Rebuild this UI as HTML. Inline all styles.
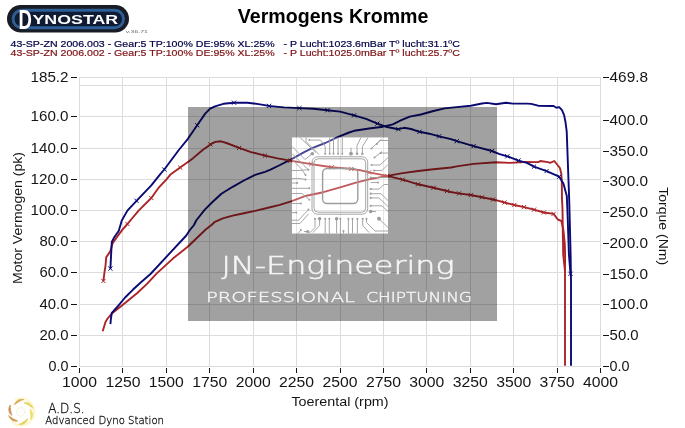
<!DOCTYPE html><html><head><meta charset="utf-8"><title>Vermogens Kromme</title>
<style>html,body{margin:0;padding:0;background:#fff}svg{display:block}text{font-family:"Liberation Sans",sans-serif}</style></head><body>
<svg width="685" height="428" viewBox="0 0 685 428">
<rect width="685" height="428" fill="#fff"/>
<path d="M79.5,77V367M122.5,77V367M166.5,77V367M209.5,77V367M253.5,77V367M296.5,77V367M340.5,77V367M383.5,77V367M426.5,77V367M470.5,77V367M513.5,77V367M557.5,77V367M600.5,77V367M79,366.5H601M79,335.5H601M79,304.5H601M79,272.5H601M79,241.5H601M79,210.5H601M79,179.5H601M79,148.5H601M79,116.5H601M79,85.5H601M79,77.5H601" stroke="#dcdcdc" stroke-width="1" fill="none" shape-rendering="crispEdges"/>
<path d="M102.7,331.2 L105.5,322.0 L107.6,318.5 L111.8,313.6 L122.3,305.2 L137.0,293.3 L147.0,283.9 L156.8,273.4 L172.9,258.6 L187.7,246.7 L206.0,229.3 L211.5,225.0 L214.4,222.2 L222.8,218.4 L232.7,215.6 L243.9,213.2 L255.1,210.9 L269.1,207.5 L279.8,204.8 L291.0,201.3 L306.4,195.7 L323.3,192.2 L340.1,187.3 L356.9,182.4 L369.0,179.4 L387.2,175.9 L402.7,173.1 L418.1,171.0 L433.5,169.3 L451.0,167.5 L456.8,166.4 L473.6,163.9 L496.0,162.2 L510.0,162.9 L524.0,162.0 L538.2,162.1 L540.3,161.0 L548.0,162.1 L550.1,162.8 L554.3,161.0 L557.1,164.5 L559.9,168.0 L561.3,173.6 L561.8,182.0 L562.0,199.6 L562.5,209.0 L562.9,237.0 L563.2,254.6 L565.0,271.0 L565.0,365.8" fill="none" stroke="#ac2428" stroke-width="1.9" stroke-linejoin="round" stroke-linecap="butt"/>
<path d="M110.4,324.1 L111.0,318.0 L111.8,313.0 L118.8,305.2 L125.1,297.5 L132.8,289.8 L140.7,282.5 L150.5,274.0 L168.0,255.1 L186.3,235.5 L189.5,230.5 L194.0,225.0 L196.2,220.5 L204.6,209.9 L213.0,201.5 L221.4,193.8 L232.7,186.8 L243.9,180.5 L255.1,174.9 L265.0,171.8 L270.5,169.7 L279.0,165.5 L291.6,159.1 L304.2,152.1 L312.7,147.9 L325.3,143.0 L337.6,137.2 L349.1,132.5 L354.1,130.8 L361.0,129.7 L369.0,128.5 L383.0,126.7 L392.8,124.3 L401.3,120.1 L409.7,116.6 L420.9,114.5 L433.5,111.0 L444.7,108.4 L454.0,107.4 L470.8,105.7 L482.0,103.5 L487.0,102.9 L496.0,104.3 L505.9,102.8 L512.9,103.6 L526.9,103.6 L531.2,103.9 L538.2,105.7 L553.6,106.0 L556.4,107.7 L559.2,107.1 L562.0,110.2 L564.1,115.1 L565.6,122.8 L566.7,131.3 L567.2,144.6 L568.4,177.8 L569.2,199.6 L570.6,254.0 L571.0,280.0 L571.0,365.8" fill="none" stroke="#0a0a76" stroke-width="1.9" stroke-linejoin="round" stroke-linecap="butt"/>
<path d="M103.4,281.0 L104.5,272.0 L105.5,265.8 L106.2,257.4 L110.4,251.1 L112.5,243.4 L117.4,236.4 L122.5,229.6 L127.4,224.0 L138.6,210.6 L151.3,198.0 L158.3,188.2 L166.7,179.1 L170.4,174.6 L180.2,167.6 L192.8,158.4 L202.7,150.0 L210.4,144.4 L215.3,141.9 L220.9,141.3 L226.5,143.0 L239.1,147.9 L251.0,152.1 L265.0,155.6 L277.6,158.4 L290.2,160.6 L311.3,164.1 L331.7,167.3 L351.3,168.9 L361.0,170.4 L369.0,172.4 L387.2,175.9 L402.7,179.7 L418.1,184.3 L433.5,187.8 L451.0,192.0 L456.8,193.1 L470.8,195.0 L482.0,197.3 L496.0,200.1 L504.5,202.5 L514.3,205.0 L524.1,207.1 L534.0,209.7 L543.8,212.5 L553.6,213.9 L557.8,219.5 L561.3,220.9 L563.4,230.0 L564.8,244.0 L565.1,254.6 L565.0,271.0" fill="none" stroke="#ac2428" stroke-width="1.9" stroke-linejoin="round" stroke-linecap="butt"/>
<path d="M110.4,268.6 L111.1,254.6 L111.8,242.0 L113.9,237.8 L118.8,230.8 L119.3,229.0 L121.8,220.5 L127.4,210.6 L136.5,200.8 L151.3,185.4 L159.9,174.6 L164.3,169.5 L178.8,150.0 L187.9,138.8 L197.2,125.2 L205.2,113.6 L210.1,108.7 L215.0,106.3 L223.4,103.8 L234.0,102.7 L247.3,102.8 L258.5,104.1 L269.0,105.9 L276.0,106.6 L284.0,107.4 L299.4,108.1 L313.4,108.8 L327.5,110.2 L340.1,111.6 L354.1,115.4 L366.1,118.9 L377.4,123.6 L385.8,126.7 L398.4,129.2 L404.0,127.8 L411.0,129.0 L419.5,131.8 L429.3,133.7 L439.1,136.3 L451.0,139.1 L456.8,141.2 L473.6,146.1 L491.9,151.0 L498.9,153.8 L507.3,156.3 L518.5,160.6 L526.9,162.9 L534.0,166.6 L546.6,171.1 L559.2,176.7 L563.4,183.4 L566.8,196.1 L567.6,215.0 L568.9,254.0 L570.5,273.8" fill="none" stroke="#0a0a76" stroke-width="1.9" stroke-linejoin="round" stroke-linecap="butt"/>
<path d="M101.3,278.9l4.2,4.2M101.3,283.1l4.2,-4.2M125.3,221.9l4.2,4.2M125.3,226.1l4.2,-4.2M149.2,195.9l4.2,4.2M149.2,200.1l4.2,-4.2M178.1,165.5l4.2,4.2M178.1,169.7l4.2,-4.2M208.3,142.3l4.2,4.2M208.3,146.5l4.2,-4.2M237.0,145.8l4.2,4.2M237.0,150.0l4.2,-4.2M262.9,153.5l4.2,4.2M262.9,157.7l4.2,-4.2M288.1,158.5l4.2,4.2M288.1,162.7l4.2,-4.2M309.2,162.0l4.2,4.2M309.2,166.2l4.2,-4.2M329.6,165.2l4.2,4.2M329.6,169.4l4.2,-4.2M349.2,166.8l4.2,4.2M349.2,171.0l4.2,-4.2M366.9,170.3l4.2,4.2M366.9,174.5l4.2,-4.2M385.1,173.8l4.2,4.2M385.1,178.0l4.2,-4.2M400.6,177.6l4.2,4.2M400.6,181.8l4.2,-4.2M416.0,182.2l4.2,4.2M416.0,186.4l4.2,-4.2M431.4,185.7l4.2,4.2M431.4,189.9l4.2,-4.2M444.9,188.9l4.2,4.2M444.9,193.1l4.2,-4.2M456.9,191.3l4.2,4.2M456.9,195.5l4.2,-4.2M468.7,192.9l4.2,4.2M468.7,197.1l4.2,-4.2M479.9,195.2l4.2,4.2M479.9,199.4l4.2,-4.2M490.9,197.4l4.2,4.2M490.9,201.6l4.2,-4.2M502.4,200.4l4.2,4.2M502.4,204.6l4.2,-4.2M512.2,202.9l4.2,4.2M512.2,207.1l4.2,-4.2M522.0,205.0l4.2,4.2M522.0,209.2l4.2,-4.2M531.9,207.6l4.2,4.2M531.9,211.8l4.2,-4.2M541.7,210.4l4.2,4.2M541.7,214.6l4.2,-4.2M551.5,211.8l4.2,4.2M551.5,216.0l4.2,-4.2" fill="none" stroke="#ac2428" stroke-width="1"/>
<path d="M108.3,266.5l4.2,4.2M108.3,270.7l4.2,-4.2M134.4,198.7l4.2,4.2M134.4,202.9l4.2,-4.2M162.2,167.4l4.2,4.2M162.2,171.6l4.2,-4.2M195.1,123.1l4.2,4.2M195.1,127.3l4.2,-4.2M231.9,100.6l4.2,4.2M231.9,104.8l4.2,-4.2M266.9,103.8l4.2,4.2M266.9,108.0l4.2,-4.2M297.3,106.0l4.2,4.2M297.3,110.2l4.2,-4.2M325.4,108.1l4.2,4.2M325.4,112.3l4.2,-4.2M352.0,113.3l4.2,4.2M352.0,117.5l4.2,-4.2M375.3,121.5l4.2,4.2M375.3,125.7l4.2,-4.2M396.3,127.1l4.2,4.2M396.3,131.3l4.2,-4.2M417.4,129.7l4.2,4.2M417.4,133.9l4.2,-4.2M437.0,134.2l4.2,4.2M437.0,138.4l4.2,-4.2M454.7,139.1l4.2,4.2M454.7,143.3l4.2,-4.2M471.5,144.0l4.2,4.2M471.5,148.2l4.2,-4.2M489.8,148.9l4.2,4.2M489.8,153.1l4.2,-4.2M505.2,154.2l4.2,4.2M505.2,158.4l4.2,-4.2M516.4,158.5l4.2,4.2M516.4,162.7l4.2,-4.2M531.9,164.5l4.2,4.2M531.9,168.7l4.2,-4.2M544.5,169.0l4.2,4.2M544.5,173.2l4.2,-4.2M557.1,174.6l4.2,4.2M557.1,178.8l4.2,-4.2M568.4,271.7l4.2,4.2M568.4,275.9l4.2,-4.2" fill="none" stroke="#0a0a76" stroke-width="1"/>
<path d="M188,107H497V321H188ZM292,137.5H388V233.4H292Z" fill="#000" fill-opacity="0.37" fill-rule="evenodd"/>
<rect x="292" y="137.5" width="96" height="95.9" fill="#fff" fill-opacity="0.25"/>
<g transform="translate(292,137.5)" fill="none" stroke="#9c9c9c" stroke-width="0.9">
<path d="M17.3,2.6H28.6L33.2,9V16.2M37.7,0V16.2M41.5,0V16.2M46.1,0V16.2M50.3,0V16.2M59,16.2V10M65,16.2V8L69,0M70.4,16.2V9L76,0M0,9L13,22L20.3,16.2M8,0L24,15M14,0V4L27,17M0,16L12,28L16.5,32.2M0,22L9,31L13.5,37.5M0,41H8L13.5,42M0,45.5H5.1M0,50.8H17.3M0,56H10L17.3,62.2M0,33H6L16.5,32.2M0,75.1H4.3M16.5,72.1L6.6,82.7H0M16.5,76.5L8,86H0M0,66H9M79.5,10.9L88,3H96M84.8,6.4L90,1M88.6,15.5H96M82.5,20L90,14M79.5,27.5H88L96,20M82,33H90L96,27M78.7,51.6H87L92,47H96M78.7,56.2H89L96,63M78.7,60.4H87L96,69M78.7,68.3H90L96,74M78.7,74H84M78.7,40H96M78.7,45H86M23,81.2V90L17,96M27.6,81.2V88L21,95M33.2,81.2V96M37.3,81.2V96M44.6,81.2V96M48.4,81.2V96M51.5,93.5V96M56.4,81.2V96M60.5,81.2V96M65.4,81.2V96M70.7,81.2V88L77,95M74.5,81.2V85L83,93.5H96M87,81.2L96,90M8.9,92.6L6,96M15.7,94H12"/>
<rect x="20" y="19.3" width="55.7" height="57.4" rx="5.5"/>
<rect x="22" y="21.3" width="51.7" height="53.4" rx="4"/>
<rect x="30.6" y="31" width="35.2" height="35" rx="4.5" stroke-width="1.4"/>
<g fill="#9c9c9c" stroke="none"><circle cx="17.3" cy="2.6" r="1"/><circle cx="33.2" cy="16.2" r="1"/><circle cx="37.7" cy="16.2" r="1"/><circle cx="41.5" cy="16.2" r="1"/><circle cx="46.1" cy="16.2" r="1"/><circle cx="50.3" cy="16.2" r="1"/><circle cx="59" cy="16.2" r="1.9"/><circle cx="65" cy="16.2" r="1.2"/><circle cx="70.4" cy="16.2" r="1.2"/><circle cx="20.3" cy="16.2" r="1.8"/><circle cx="16.5" cy="32.2" r="1"/><circle cx="13.5" cy="37.5" r="1"/><circle cx="13.5" cy="42" r="1"/><circle cx="5.1" cy="45.5" r="1"/><circle cx="17.3" cy="50.8" r="1"/><circle cx="17.3" cy="62.2" r="1"/><circle cx="4.3" cy="75.1" r="1"/><circle cx="16.5" cy="72.1" r="1"/><circle cx="9" cy="66" r="1"/><circle cx="79.5" cy="10.9" r="1"/><circle cx="84.8" cy="6.4" r="1"/><circle cx="88.6" cy="15.5" r="1"/><circle cx="82.5" cy="20" r="1"/><circle cx="79.5" cy="27.5" r="1"/><circle cx="82" cy="33" r="1"/><circle cx="78.7" cy="51.6" r="1.1"/><circle cx="78.7" cy="56.2" r="1.1"/><circle cx="78.7" cy="60.4" r="1.1"/><circle cx="78.7" cy="68.3" r="1.1"/><circle cx="78.7" cy="74" r="1.8"/><circle cx="78.7" cy="40" r="1"/><circle cx="86" cy="45" r="1"/><circle cx="23" cy="81.2" r="1"/><circle cx="27.6" cy="81.2" r="1.8"/><circle cx="33.2" cy="81.2" r="1"/><circle cx="37.3" cy="81.2" r="1"/><circle cx="44.6" cy="81.2" r="1.8"/><circle cx="48.4" cy="81.2" r="1"/><circle cx="51.5" cy="93.5" r="1"/><circle cx="56.4" cy="81.2" r="1"/><circle cx="60.5" cy="81.2" r="1"/><circle cx="65.4" cy="81.2" r="1"/><circle cx="70.7" cy="81.2" r="1"/><circle cx="74.5" cy="81.2" r="1"/><circle cx="87" cy="81.2" r="2"/><circle cx="8.9" cy="92.6" r="1"/><circle cx="15.7" cy="94" r="1.6"/></g>
</g>
<text x="221.5" y="273.5" font-size="25.5" textLength="233" lengthAdjust="spacingAndGlyphs" fill="#f4f4f4" stroke="#f4f4f4" stroke-width="0.55" style="font-family:DejaVu Sans, Liberation Sans, sans-serif;font-weight:200">JN-Engineering</text>
<text x="205.9" y="301.6" font-size="14" textLength="149" lengthAdjust="spacingAndGlyphs" fill="#f4f4f4" stroke="#f4f4f4" stroke-width="0.4" style="font-family:DejaVu Sans, Liberation Sans, sans-serif;font-weight:200">PROFESSIONAL</text>
<text x="366.2" y="301.6" font-size="14" textLength="105.8" lengthAdjust="spacingAndGlyphs" fill="#f4f4f4" stroke="#f4f4f4" stroke-width="0.4" style="font-family:DejaVu Sans, Liberation Sans, sans-serif;font-weight:200">CHIPTUNING</text>
<text x="48.5" y="371.2" font-size="14.2" textLength="20" lengthAdjust="spacingAndGlyphs" fill="#151515">0.0</text>
<text x="39.5" y="340.2" font-size="14.2" textLength="29" lengthAdjust="spacingAndGlyphs" fill="#151515">20.0</text>
<text x="39.5" y="309.2" font-size="14.2" textLength="29" lengthAdjust="spacingAndGlyphs" fill="#151515">40.0</text>
<text x="39.5" y="277.2" font-size="14.2" textLength="29" lengthAdjust="spacingAndGlyphs" fill="#151515">60.0</text>
<text x="39.5" y="246.2" font-size="14.2" textLength="29" lengthAdjust="spacingAndGlyphs" fill="#151515">80.0</text>
<text x="30.5" y="215.2" font-size="14.2" textLength="38" lengthAdjust="spacingAndGlyphs" fill="#151515">100.0</text>
<text x="30.5" y="184.2" font-size="14.2" textLength="38" lengthAdjust="spacingAndGlyphs" fill="#151515">120.0</text>
<text x="30.5" y="153.2" font-size="14.2" textLength="38" lengthAdjust="spacingAndGlyphs" fill="#151515">140.0</text>
<text x="30.5" y="121.2" font-size="14.2" textLength="38" lengthAdjust="spacingAndGlyphs" fill="#151515">160.0</text>
<text x="30.5" y="82.2" font-size="14.2" textLength="38" lengthAdjust="spacingAndGlyphs" fill="#151515">185.2</text>
<text x="609.6" y="371.2" font-size="14.2" textLength="20" lengthAdjust="spacingAndGlyphs" fill="#151515">0.0</text>
<text x="609.6" y="340.2" font-size="14.2" textLength="29" lengthAdjust="spacingAndGlyphs" fill="#151515">50.0</text>
<text x="609.6" y="309.2" font-size="14.2" textLength="38.4" lengthAdjust="spacingAndGlyphs" fill="#151515">100.0</text>
<text x="609.6" y="279.2" font-size="14.2" textLength="38.4" lengthAdjust="spacingAndGlyphs" fill="#151515">150.0</text>
<text x="609.6" y="248.2" font-size="14.2" textLength="38.4" lengthAdjust="spacingAndGlyphs" fill="#151515">200.0</text>
<text x="609.6" y="217.2" font-size="14.2" textLength="38.4" lengthAdjust="spacingAndGlyphs" fill="#151515">250.0</text>
<text x="609.6" y="186.2" font-size="14.2" textLength="38.4" lengthAdjust="spacingAndGlyphs" fill="#151515">300.0</text>
<text x="609.6" y="156.2" font-size="14.2" textLength="38.4" lengthAdjust="spacingAndGlyphs" fill="#151515">350.0</text>
<text x="609.6" y="125.2" font-size="14.2" textLength="38.4" lengthAdjust="spacingAndGlyphs" fill="#151515">400.0</text>
<text x="609.6" y="82.2" font-size="14.2" textLength="38.4" lengthAdjust="spacingAndGlyphs" fill="#151515">469.8</text>
<text x="62.0" y="386.8" font-size="14.3" textLength="35" lengthAdjust="spacingAndGlyphs" fill="#151515">1000</text>
<text x="105.4" y="386.8" font-size="14.3" textLength="35" lengthAdjust="spacingAndGlyphs" fill="#151515">1250</text>
<text x="148.8" y="386.8" font-size="14.3" textLength="35" lengthAdjust="spacingAndGlyphs" fill="#151515">1500</text>
<text x="192.2" y="386.8" font-size="14.3" textLength="35" lengthAdjust="spacingAndGlyphs" fill="#151515">1750</text>
<text x="235.7" y="386.8" font-size="14.3" textLength="35" lengthAdjust="spacingAndGlyphs" fill="#151515">2000</text>
<text x="279.1" y="386.8" font-size="14.3" textLength="35" lengthAdjust="spacingAndGlyphs" fill="#151515">2250</text>
<text x="322.5" y="386.8" font-size="14.3" textLength="35" lengthAdjust="spacingAndGlyphs" fill="#151515">2500</text>
<text x="365.9" y="386.8" font-size="14.3" textLength="35" lengthAdjust="spacingAndGlyphs" fill="#151515">2750</text>
<text x="409.3" y="386.8" font-size="14.3" textLength="35" lengthAdjust="spacingAndGlyphs" fill="#151515">3000</text>
<text x="452.8" y="386.8" font-size="14.3" textLength="35" lengthAdjust="spacingAndGlyphs" fill="#151515">3250</text>
<text x="496.2" y="386.8" font-size="14.3" textLength="35" lengthAdjust="spacingAndGlyphs" fill="#151515">3500</text>
<text x="539.6" y="386.8" font-size="14.3" textLength="35" lengthAdjust="spacingAndGlyphs" fill="#151515">3750</text>
<text x="583.0" y="386.8" font-size="14.3" textLength="35" lengthAdjust="spacingAndGlyphs" fill="#151515">4000</text>
<path d="M71,366.5H77M71,335.5H77M71,304.5H77M71,272.5H77M71,241.5H77M71,210.5H77M71,179.5H77M71,148.5H77M71,116.5H77M71,77.5H77M603,366.5H609M603,335.5H609M603,304.5H609M603,274.5H609M603,243.5H609M603,212.5H609M603,181.5H609M603,151.5H609M603,120.5H609M603,77.5H609M79.5,368V373M122.5,368V373M166.5,368V373M209.5,368V373M253.5,368V373M296.5,368V373M340.5,368V373M383.5,368V373M426.5,368V373M470.5,368V373M513.5,368V373M557.5,368V373M600.5,368V373" stroke="#151515" stroke-width="1" fill="none" shape-rendering="crispEdges"/>
<text x="291.4" y="406.4" font-size="13.4" textLength="97.2" lengthAdjust="spacingAndGlyphs" fill="#151515">Toerental (rpm)</text>
<text transform="translate(22,284) rotate(-90)" font-size="13.4" textLength="132" lengthAdjust="spacingAndGlyphs" fill="#151515">Motor Vermogen (pk)</text>
<text transform="translate(659.1,187.2) rotate(90)" font-size="13.6" textLength="78" lengthAdjust="spacingAndGlyphs" fill="#151515">Torque (Nm)</text>
<text x="237.8" y="23.4" font-size="19.6" font-weight="bold" textLength="190.6" lengthAdjust="spacingAndGlyphs" fill="#000">Vermogens Kromme</text>
<text x="10.5" y="47" font-size="9.8" textLength="449.3" lengthAdjust="spacingAndGlyphs" fill="#000046" stroke="#000046" stroke-width="0.2" xml:space="preserve">43-SP-ZN 2006.003 - Gear:5 TP:100% DE:95% XL:25%   - P Lucht:1023.6mBar Tº lucht:31.1ºC</text>
<text x="10.5" y="55.9" font-size="9.8" textLength="449.3" lengthAdjust="spacingAndGlyphs" fill="#7e1216" stroke="#7e1216" stroke-width="0.2" xml:space="preserve">43-SP-ZN 2006.002 - Gear:5 TP:100% DE:95% XL:25%   - P Lucht:1025.0mBar Tº lucht:25.7ºC</text>
<rect x="7" y="4.9" width="122" height="27.6" rx="13.8" fill="#181c26"/>
<rect x="13.1" y="10.25" width="110.4" height="17.5" rx="8.75" fill="#0f1a33" stroke="#2d5f96" stroke-width="2.9"/>
<text x="18.6" y="29.2" font-size="28.5" font-weight="bold" textLength="13.4" lengthAdjust="spacingAndGlyphs" fill="#fff">D</text>
<text x="32.4" y="24" font-size="12.3" font-weight="bold" textLength="85.8" lengthAdjust="spacingAndGlyphs" fill="#fff">YNOSTAR</text>
<text x="125.8" y="33" font-size="4" fill="#666" textLength="22" lengthAdjust="spacingAndGlyphs">v.36.71</text>
<text x="48.2" y="412.7" font-size="14.2" textLength="36.5" lengthAdjust="spacingAndGlyphs" fill="#111" stroke="#111" stroke-width="0.35" style="font-family:DejaVu Sans, Liberation Sans, sans-serif;font-weight:200">A.D.S.</text>
<text x="45.3" y="423.5" font-size="11" textLength="118.7" lengthAdjust="spacingAndGlyphs" fill="#111" stroke="#111" stroke-width="0.3" style="font-family:DejaVu Sans, Liberation Sans, sans-serif;font-weight:200">Advanced Dyno Station</text>
<path d="M14.8,399.9A13.4,13.4 0 1 1 11.8,421.9" fill="none" stroke="#f5ec8c" stroke-width="2.4" opacity="0.4"/><circle cx="20.8" cy="411.9" r="4.2" fill="none" stroke="#d9c770" stroke-width="0.9" stroke-dasharray="1.2 1.6" opacity="0.7"/><path transform="translate(20.8,411.9) rotate(-100)" d="M8.2,-5C12.6,-2.6 13,1.6 11.6,5C11.2,1.8 10,-1.4 8.2,-5Z" fill="#d39a38" stroke="#d39a38" stroke-width="0.7" opacity="0.85"/><path transform="translate(20.8,411.9) rotate(-40)" d="M8.2,-5C12.6,-2.6 13,1.6 11.6,5C11.2,1.8 10,-1.4 8.2,-5Z" fill="#e3cb42" stroke="#e3cb42" stroke-width="0.7" opacity="0.85"/><path transform="translate(20.8,411.9) rotate(15)" d="M8.2,-5C12.6,-2.6 13,1.6 11.6,5C11.2,1.8 10,-1.4 8.2,-5Z" fill="#e8d548" stroke="#e8d548" stroke-width="0.7" opacity="0.85"/><path transform="translate(20.8,411.9) rotate(75)" d="M8.2,-5C12.6,-2.6 13,1.6 11.6,5C11.2,1.8 10,-1.4 8.2,-5Z" fill="#e2c840" stroke="#e2c840" stroke-width="0.7" opacity="0.85"/><path transform="translate(20.8,411.9) rotate(140)" d="M8.2,-5C12.6,-2.6 13,1.6 11.6,5C11.2,1.8 10,-1.4 8.2,-5Z" fill="#c98a34" stroke="#c98a34" stroke-width="0.7" opacity="0.85"/><path transform="translate(20.8,411.9) rotate(-170)" d="M8.2,-5C12.6,-2.6 13,1.6 11.6,5C11.2,1.8 10,-1.4 8.2,-5Z" fill="#c67c34" stroke="#c67c34" stroke-width="0.7" opacity="0.85"/>
</svg></body></html>
